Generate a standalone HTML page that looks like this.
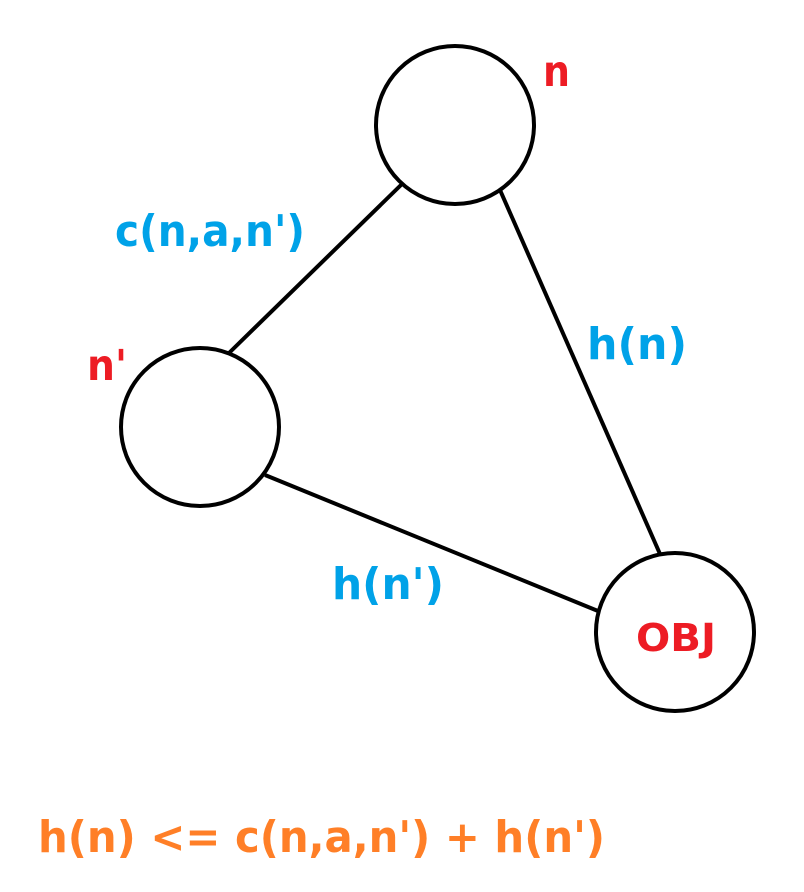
<!DOCTYPE html>
<html><head><meta charset="utf-8"><style>
html,body{margin:0;padding:0;background:#fff;}
svg{display:block;}
text{font-family:"DejaVu Sans","Liberation Sans",sans-serif;font-weight:bold;}
</style></head><body>
<svg width="804" height="892" viewBox="0 0 804 892">
<g stroke="#000" stroke-width="4" fill="none">
<line x1="402" y1="184" x2="229" y2="353"/>
<line x1="500" y1="190" x2="660" y2="554"/>
<line x1="265" y1="475" x2="598" y2="611"/>
<circle cx="455" cy="125" r="79" fill="#fff"/>
<circle cx="200" cy="427" r="79" fill="#fff"/>
<circle cx="675" cy="632" r="79" fill="#fff"/>
</g>
<text x="543" y="86" font-size="43" fill="#ed1c24" textLength="27" lengthAdjust="spacingAndGlyphs">n</text>
<text x="87" y="380" font-size="43" fill="#ed1c24" textLength="40" lengthAdjust="spacingAndGlyphs">n'</text>
<text x="636" y="651" font-size="38" fill="#ed1c24" textLength="80" lengthAdjust="spacingAndGlyphs">OBJ</text>
<text x="115" y="246" font-size="44" fill="#00a2e8" textLength="190" lengthAdjust="spacingAndGlyphs">c(n,a,n')</text>
<text x="587" y="359" font-size="44" fill="#00a2e8" textLength="100" lengthAdjust="spacingAndGlyphs">h(n)</text>
<text x="332" y="599" font-size="44" fill="#00a2e8" textLength="112" lengthAdjust="spacingAndGlyphs">h(n')</text>
<text x="38" y="852" font-size="44" fill="#ff7f27" textLength="567" lengthAdjust="spacingAndGlyphs">h(n) &lt;= c(n,a,n') + h(n')</text>
</svg>
</body></html>
